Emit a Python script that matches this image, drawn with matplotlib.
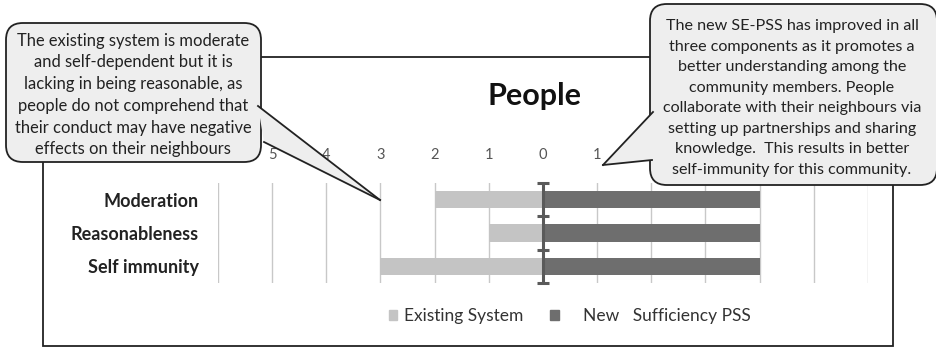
import numpy as np
import matplotlib
matplotlib.use("Agg")
from matplotlib import pyplot as plt
from matplotlib.patches import FancyBboxPatch, Polygon, Rectangle
from matplotlib.lines import Line2D

plt.rcParams['font.family'] = ['Lato', 'DejaVu Sans']

categories = ["Moderation", "Reasonableness", "Self immunity"]
existing = [-2, -1, -3]
new_pss = [4, 4, 4]
ticks = list(range(-6, 7))
# labels under the callouts are not visible in the original
tick_labels = [str(abs(t)) if -6 < t < 2 else "" for t in ticks]

left_note = ("The existing system is moderate\nand self-dependent but it is\n"
             "lacking in being reasonable, as\npeople do not comprehend that\n"
             "their conduct may have negative\neffects on their neighbours")
right_note = ("The new SE-PSS has improved in all\nthree components as it promotes a\n"
              "better understanding among the\ncommunity members. People\n"
              "collaborate with their neighbours via\nsetting up partnerships and sharing\n"
              "knowledge.  This results in better\nself-immunity for this community.")

W, H = 937, 350
fig = plt.figure(figsize=(W / 100, H / 100), dpi=100)

def px(x, y):
    return (x / W, 1 - y / H)

# outer chart frame
fig.add_artist(Rectangle(px(43, 346), 850 / W, 289 / H, transform=fig.transFigure,
                         fill=False, ec="#222222", lw=1.3, zorder=1))

ax = fig.add_axes([218 / W, 1 - 283 / H, 650 / W, 100 / H])
ax.set_zorder(2)
y = np.arange(len(categories))
ax.barh(y, existing, height=0.52, color="#c4c4c4", zorder=2)
ax.barh(y, new_pss, height=0.52, color="#6e6e6e", zorder=2)
ax.set_xlim(-6, 6)
ax.set_ylim(2.5, -0.5)
ax.set_xticks(ticks)
ax.set_xticklabels(tick_labels)
ax.set_yticks(y)
ax.set_yticklabels(categories, fontweight="bold", fontsize=13, color="#222222")
ax.tick_params(axis="x", top=True, labeltop=True, bottom=False, labelbottom=False,
               length=0, pad=15, labelsize=10.5, labelcolor="#555555")
ax.tick_params(axis="y", length=0, pad=14)
ax.grid(axis="x", color="#c8c8c8", lw=1)
ax.set_axisbelow(True)
for s in ax.spines.values():
    s.set_visible(False)
# vertical axis at zero with cross ticks
ax.axvline(0, color="#5a5a5a", lw=2.2, zorder=3)
ax.plot([0] * 4, [-0.5, 0.5, 1.5, 2.5], ls="none", marker="_", ms=8, mew=2.2,
        color="#5a5a5a", zorder=3, clip_on=False)

handles = [Rectangle((0, 0), 1, 1, color="#c4c4c4"), Rectangle((0, 0), 1, 1, color="#6e6e6e")]
fig.legend(handles, ["Existing System", "    New   Sufficiency PSS"], loc="center",
           bbox_to_anchor=px(570, 316), ncol=2, frameon=False, fontsize=12.5,
           handlelength=0.5, handleheight=0.5, handletextpad=0.4, columnspacing=1.5,
           labelcolor="#333333")

fig.text(*px(534, 96), "People", fontsize=22, fontweight="bold", ha="center",
         va="center", color="#111111")

def callout(x0, y0, x1, y1, base1, base2, tip, text, tx, ty, fs, ls):
    box = FancyBboxPatch(px(x0, y1), (x1 - x0) / W, (y1 - y0) / H,
                         boxstyle="round,pad=0,rounding_size=0.018",
                         transform=fig.transFigure, fc="#eeeeee", ec="#222222",
                         lw=1.3, zorder=5, mutation_aspect=W / H)
    fig.add_artist(box)
    fig.add_artist(Polygon([px(*base1), px(*tip), px(*base2)], closed=True,
                           transform=fig.transFigure, fc="#eeeeee", ec="none", zorder=6))
    for b in (base1, base2):
        p0, p1 = px(*b), px(*tip)
        fig.add_artist(Line2D([p0[0], p1[0]], [p0[1], p1[1]], transform=fig.transFigure,
                              color="#222222", lw=1.3, zorder=7))
    fig.text(*px(tx, ty), text, ha="center", va="center", fontsize=fs,
             color="#222222", linespacing=ls, zorder=8)

callout(6, 23, 261, 162, (258, 106), (264, 142), (380, 200), left_note, 133, 95, 11.9, 1.44)
callout(650, 4, 937, 185, (653, 112), (652, 160), (603, 165), right_note, 792, 98, 11.6, 1.6)

fig.savefig("out.png", dpi=100)
